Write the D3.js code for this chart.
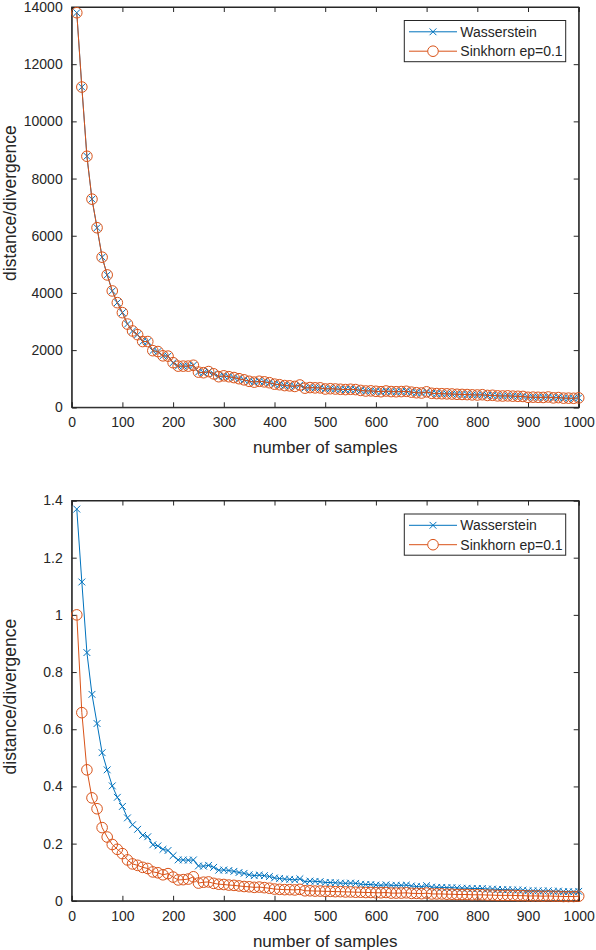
<!DOCTYPE html>
<html>
<head>
<meta charset="utf-8">
<script src="https://cdn.jsdelivr.net/npm/d3@7"></script>
<style>
html,body{margin:0;padding:0;background:#fff;}
svg{display:block;}
text{font-family:"Liberation Sans",Arial,Helvetica,sans-serif;fill:#262626;}
</style>
</head>
<body>
<svg id="chart" width="596" height="950"></svg>
<script>
const samples = [10,20,30,40,50,60,70,80,90,100,110,120,130,140,150,160,170,180,190,200,
210,220,230,240,250,260,270,280,290,300,310,320,330,340,350,360,370,380,390,400,
410,420,430,440,450,460,470,480,490,500,510,520,530,540,550,560,570,580,590,600,
610,620,630,640,650,660,670,680,690,700,710,720,730,740,750,760,770,780,790,800,
810,820,830,840,850,860,870,880,890,900,910,920,930,940,950,960,970,980,990,1000];

const topWasserstein = [13800,11200,8780,7280,6280,5250,4630,4070,3660,3310,
2910,2670,2540,2300,2300,1980,1950,1800,1790,1560,
1440,1440,1440,1470,1230,1210,1250,1170,1070,1100,
1070,1040,1000,960,910,880,910,890,860,810,
790,760,750,730,780,670,690,680,680,640,
650,640,630,620,630,620,590,570,575,560,
545,570,550,545,550,560,530,510,500,540,
490,480,475,470,465,455,450,445,435,430,
440,415,420,400,395,400,390,385,380,350,
355,350,345,360,330,340,320,320,315,330];

const topSinkhorn = [13800,11200,8780,7280,6280,5250,4630,4070,3660,3310,
2910,2670,2540,2300,2300,1980,1950,1800,1790,1560,
1440,1440,1440,1470,1230,1210,1250,1170,1070,1100,
1070,1040,1000,960,910,880,910,890,860,810,
790,760,750,730,780,670,690,680,680,640,
650,640,630,620,630,620,590,570,575,560,
545,570,550,545,550,560,530,510,500,540,
490,480,475,470,465,455,450,445,435,430,
440,415,420,400,395,400,390,385,380,350,
355,350,345,360,330,340,320,320,315,330];

const bottomWasserstein = [1.37,1.115,0.868,0.722,0.62,0.518,0.458,0.402,0.362,0.330,
0.290,0.266,0.250,0.229,0.224,0.196,0.192,0.180,0.176,0.158,
0.143,0.143,0.142,0.143,0.122,0.121,0.124,0.117,0.107,0.108,
0.106,0.103,0.099,0.096,0.091,0.088,0.090,0.088,0.085,0.080,
0.078,0.076,0.075,0.073,0.077,0.067,0.069,0.068,0.067,0.064,
0.064,0.063,0.062,0.061,0.062,0.061,0.058,0.057,0.057,0.055,
0.054,0.056,0.054,0.054,0.054,0.055,0.052,0.050,0.049,0.053,
0.048,0.047,0.047,0.046,0.046,0.045,0.044,0.044,0.043,0.043,
0.043,0.041,0.041,0.040,0.039,0.039,0.038,0.038,0.037,0.035,
0.035,0.035,0.034,0.035,0.033,0.034,0.032,0.032,0.031,0.033];

const bottomSinkhorn = [1.0,0.658,0.458,0.360,0.322,0.256,0.223,0.197,0.180,0.165,
0.143,0.129,0.124,0.117,0.113,0.101,0.098,0.091,0.095,0.083,
0.073,0.074,0.076,0.084,0.062,0.065,0.066,0.061,0.058,0.057,
0.055,0.054,0.052,0.050,0.049,0.047,0.048,0.046,0.044,0.041,
0.040,0.039,0.039,0.038,0.040,0.035,0.035,0.034,0.034,0.033,
0.033,0.032,0.032,0.031,0.031,0.030,0.030,0.029,0.029,0.028,
0.028,0.029,0.027,0.027,0.027,0.028,0.026,0.026,0.025,0.027,
0.024,0.024,0.024,0.023,0.023,0.022,0.022,0.022,0.021,0.021,
0.021,0.020,0.020,0.019,0.019,0.019,0.019,0.018,0.018,0.017,
0.017,0.017,0.016,0.017,0.016,0.016,0.015,0.015,0.015,0.016];

const xTicks = [0,100,200,300,400,500,600,700,800,900,1000];
const topYTicks = [0,2000,4000,6000,8000,10000,12000,14000];
const bottomYTicks = [0,0.2,0.4,0.6,0.8,1,1.2,1.4];
const seriesNames = ["Wasserstein","Sinkhorn ep=0.1"];
const xLabel = "number of samples";
const yLabel = "distance/divergence";

const BLUE = "#0072BD", ORANGE = "#D95319", AX = "#262626";
const svg = d3.select("#chart");

function panel(top, yMax, yTicks, wData, sData, fmt) {
  const left = 71.7, right = 578.7, h = 400.3;
  const g = svg.append("g");
  const x = d3.scaleLinear().domain([0,1000]).range([left,right]);
  const y = d3.scaleLinear().domain([0,yMax]).range([top+h, top]);
  const tl = 5;

  g.append("rect").attr("x",left).attr("y",top).attr("width",right-left).attr("height",h)
    .attr("fill","#fff").attr("stroke",AX).attr("stroke-width",1);

  const ax = d3.axisBottom(x).tickValues(xTicks).tickSize(-tl).tickPadding(10).tickFormat(d3.format("d"));
  const gx = g.append("g").attr("transform",`translate(0,${top+h})`).call(ax);
  const axT = d3.axisTop(x).tickValues(xTicks).tickSize(-tl).tickFormat("");
  const gxt = g.append("g").attr("transform",`translate(0,${top})`).call(axT);
  const ay = d3.axisLeft(y).tickValues(yTicks).tickSize(-tl).tickPadding(9).tickFormat(fmt);
  const gy = g.append("g").attr("transform",`translate(${left},0)`).call(ay);
  const ayR = d3.axisRight(y).tickValues(yTicks).tickSize(-tl).tickFormat("");
  const gyr = g.append("g").attr("transform",`translate(${right},0)`).call(ayR);
  [gx,gxt,gy,gyr].forEach(a=>{
    a.select(".domain").attr("stroke",AX);
    a.selectAll(".tick line").attr("stroke",AX);
    a.selectAll("text").attr("fill",AX).style("font-size","14px")
      .style("font-family","'Liberation Sans',Arial,sans-serif");
  });

  const line = d3.line().x((d,i)=>x(samples[i])).y(d=>y(d));
  const plot = g.append("g");
  plot.append("path").datum(wData).attr("d",line).attr("fill","none").attr("stroke",BLUE).attr("stroke-width",1);
  const cs = 3.4;
  plot.append("g").selectAll("path").data(wData).join("path")
    .attr("d",(d,i)=>{const cx=x(samples[i]),cy=y(d);
      return `M${cx-cs},${cy-cs}L${cx+cs},${cy+cs}M${cx-cs},${cy+cs}L${cx+cs},${cy-cs}`;})
    .attr("stroke",BLUE).attr("stroke-width",1).attr("fill","none");
  plot.append("path").datum(sData).attr("d",line).attr("fill","none").attr("stroke",ORANGE).attr("stroke-width",1);
  plot.append("g").selectAll("circle").data(sData).join("circle")
    .attr("cx",(d,i)=>x(samples[i])).attr("cy",d=>y(d)).attr("r",5.3)
    .attr("fill","none").attr("stroke",ORANGE).attr("stroke-width",1);

  g.append("text").attr("x",(left+right)/2).attr("y",top+h+46).attr("text-anchor","middle")
    .style("font-size","17px").text(xLabel);
  g.append("text").attr("transform",`translate(16,${top+h/2-4}) rotate(-90)`).attr("text-anchor","middle")
    .style("font-size","17.5px").text(yLabel);

  const lx = 404.3, ly = top + 13.5, lw = 161.4, lh = 41.2;
  const lg = g.append("g");
  lg.append("rect").attr("x",lx).attr("y",ly).attr("width",lw).attr("height",lh)
    .attr("fill","#fff").attr("stroke",AX).attr("stroke-width",1);
  const rows = [ly+11.3, ly+30.7];
  const colors = [BLUE, ORANGE];
  rows.forEach((ry,k)=>{
    lg.append("line").attr("x1",lx+4.7).attr("x2",lx+52.7).attr("y1",ry).attr("y2",ry)
      .attr("stroke",colors[k]).attr("stroke-width",1);
    const mx = lx+28.7;
    if(k===0){
      lg.append("path").attr("d",`M${mx-cs},${ry-cs}L${mx+cs},${ry+cs}M${mx-cs},${ry+cs}L${mx+cs},${ry-cs}`)
        .attr("stroke",BLUE).attr("stroke-width",1);
    } else {
      lg.append("circle").attr("cx",mx).attr("cy",ry).attr("r",5.3).attr("fill","#fff")
        .attr("stroke",ORANGE).attr("stroke-width",1);
    }
    lg.append("text").attr("x",lx+56).attr("y",ry).attr("dy","0.35em")
      .style("font-size","14px").text(seriesNames[k]);
  });
}

panel(7, 14000, topYTicks, topWasserstein, topSinkhorn, d3.format("d"));
panel(500.5, 1.4, bottomYTicks, bottomWasserstein, bottomSinkhorn, d=>d3.format("")(+d.toFixed(1)));
</script>
</body>
</html>
